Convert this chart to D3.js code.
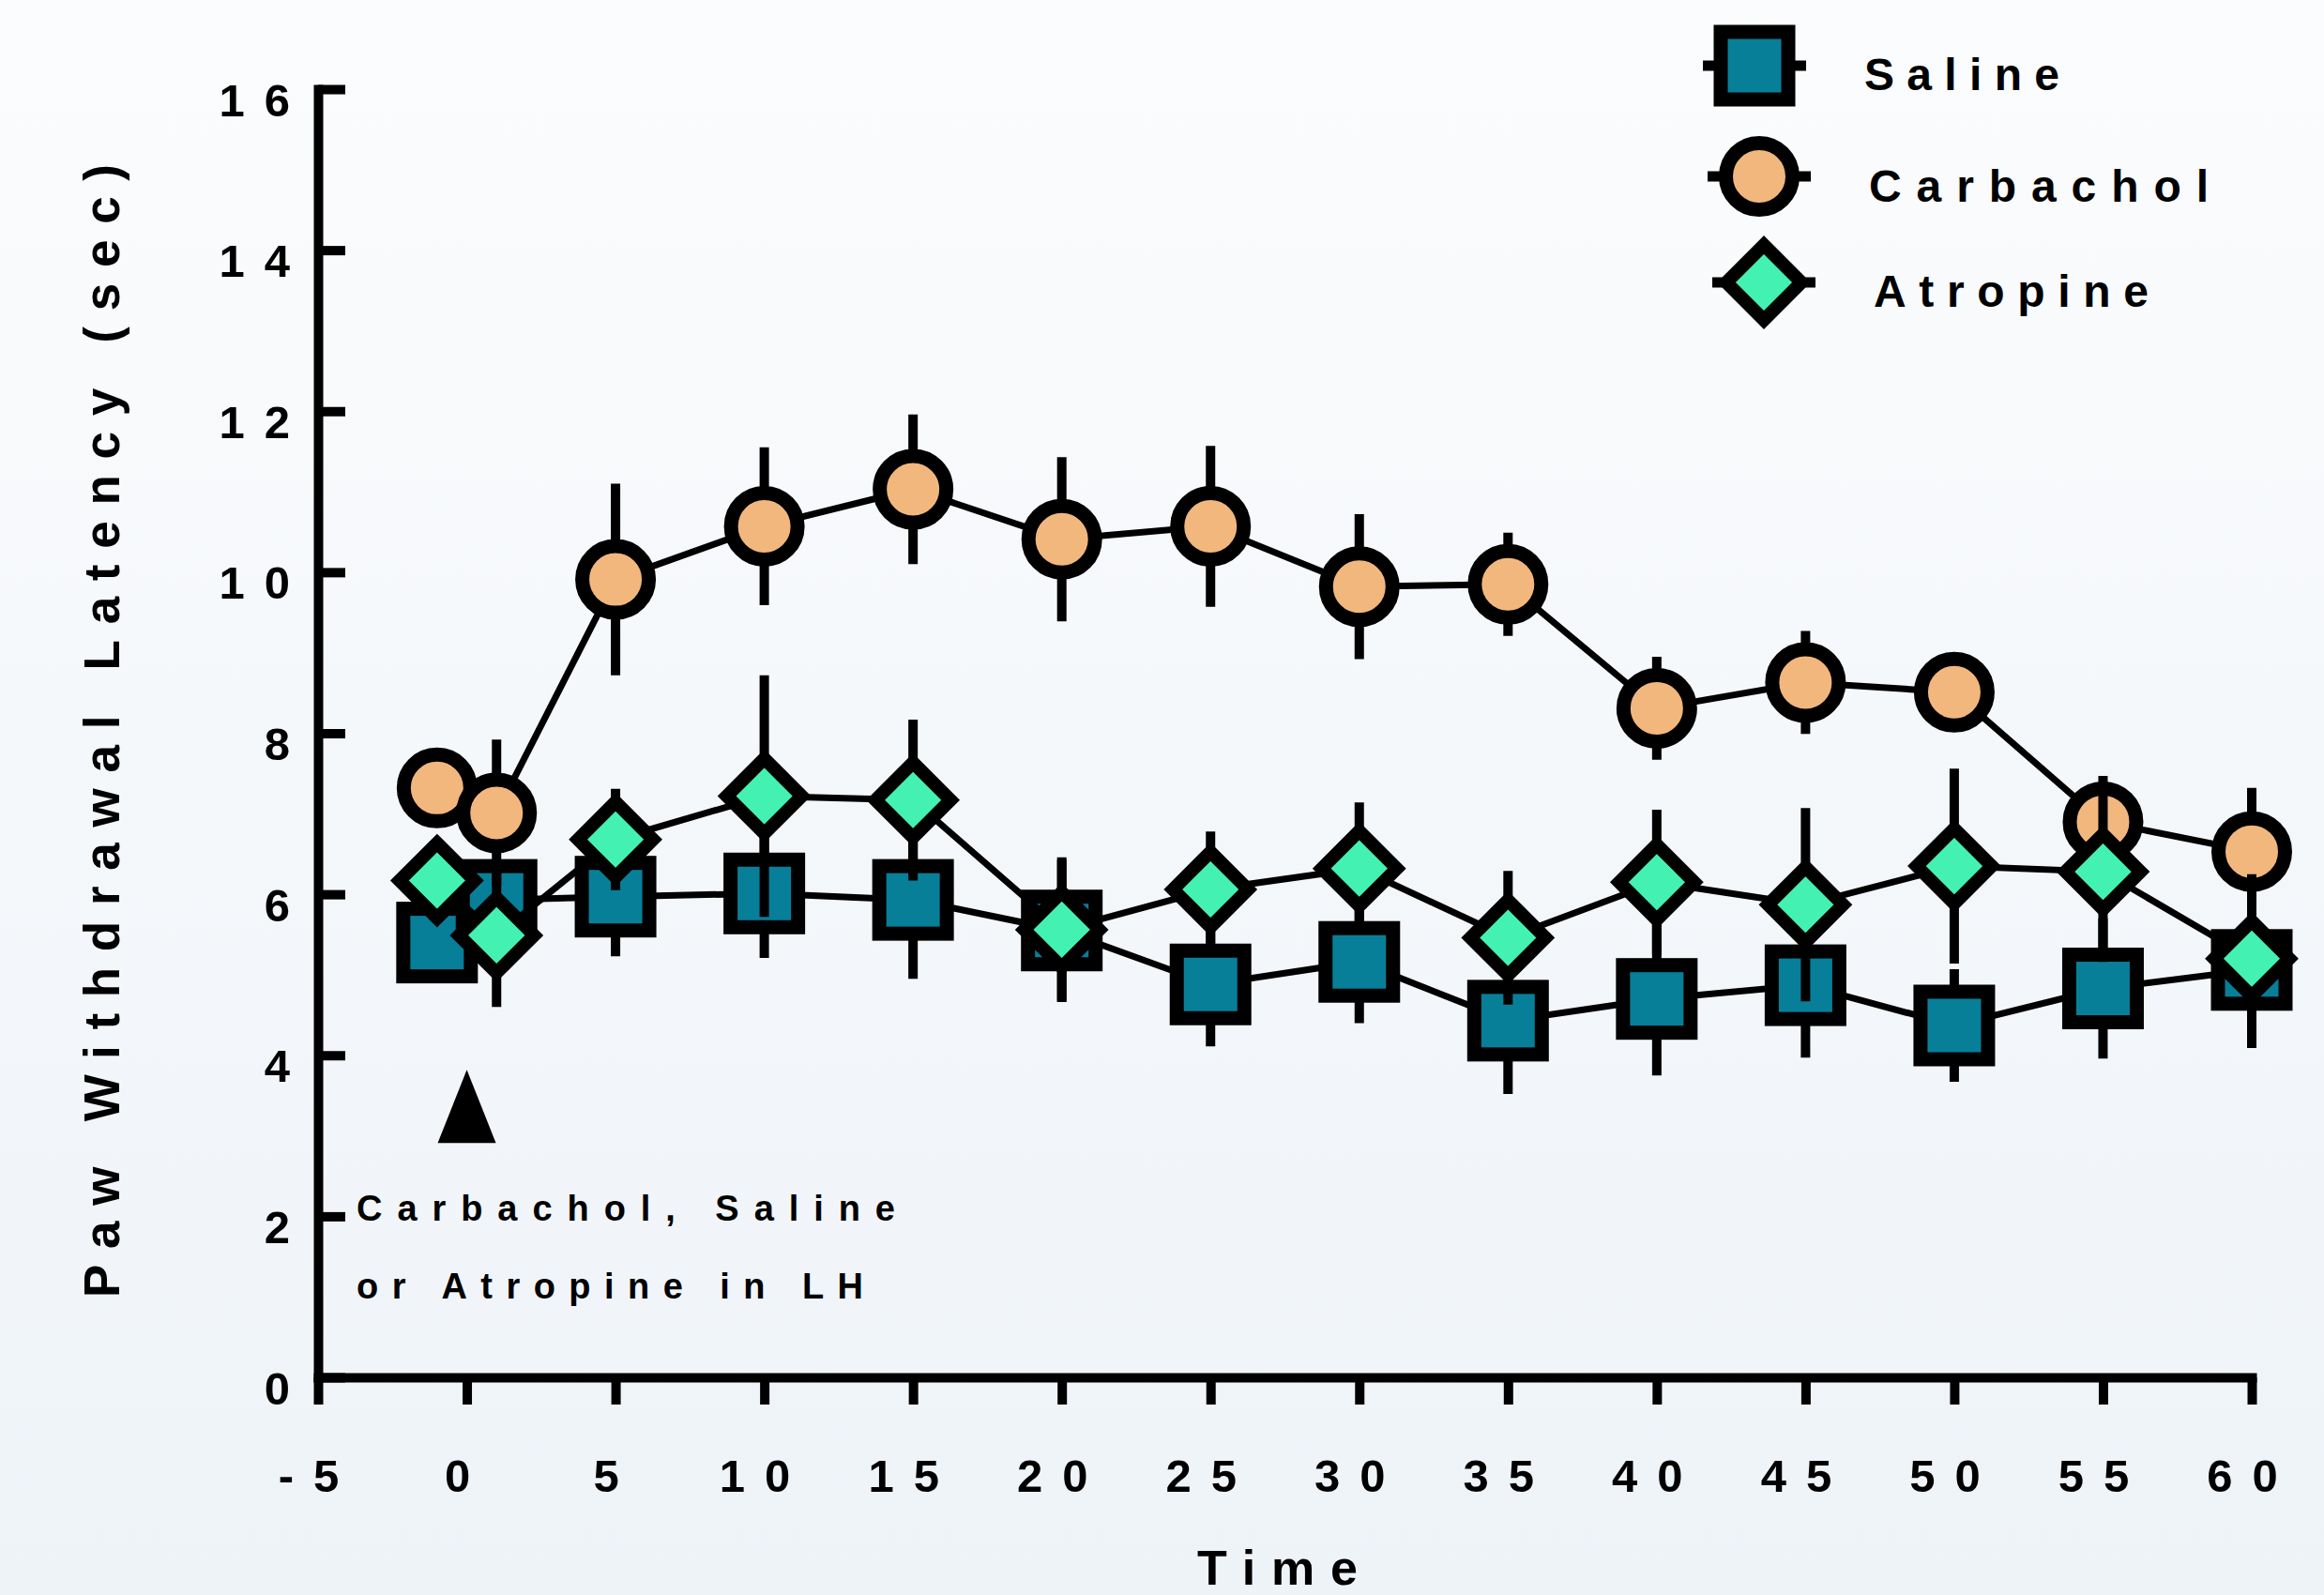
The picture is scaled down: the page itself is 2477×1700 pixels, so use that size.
<!doctype html>
<html>
<head>
    <meta charset="utf-8">
    <title>Paw Withdrawal Latency</title>
    <script src="https://cdn.jsdelivr.net/npm/d3@7"></script>
    <style>
    body { margin: 0; }
    svg text { font-family: "Liberation Sans", Arial, sans-serif; font-weight: bold; fill: #000; }
    </style>
</head>
<body>
<svg width="2477" height="1700"></svg>
<script>
// values (sec), time in min
var time = [-1, 1, 5, 10, 15, 20, 25, 30, 35, 40, 45, 50, 55, 60];

var saline       = [5.40, 5.93, 5.97, 6.01, 5.93, 5.55, 4.88, 5.16, 4.43, 4.70, 4.87, 4.37, 4.83, 5.06];
var salineErr    = [0.30, 0.30, 0.74, 0.80, 0.98, 0.88, 0.77, 0.76, 0.91, 0.95, 0.90, 0.70, 0.87, 0.97];
var carbachol    = [7.32, 7.01, 9.91, 10.57, 11.03, 10.41, 10.57, 9.82, 9.85, 8.31, 8.63, 8.51, 6.90, 6.53];
var carbacholErr = [0.30, 0.91, 1.19, 0.98, 0.93, 1.02, 1.00, 0.90, 0.64, 0.64, 0.64, 0.30, 0.57, 0.79];
var atropine     = [6.17, 5.49, 6.68, 7.22, 7.17, 5.56, 6.06, 6.32, 5.46, 6.15, 5.87, 6.35, 6.28, 5.20];
var atropineErr  = [0.30, 0.89, 0.63, 1.50, 1.00, 0.90, 0.72, 0.82, 0.83, 0.90, 1.20, 1.21, 1.12, 1.05];

var xTicks = d3.range(-5, 61, 5);
var yTicks = d3.range(0, 17, 2);

var series = [
    { name: "Saline", values: saline, err: salineErr, fill: "#077f99", shape: "square" },
    { name: "Carbachol", values: carbachol, err: carbacholErr, fill: "#f2b77d", shape: "circle" },
    { name: "Atropine", values: atropine, err: atropineErr, fill: "#43f2b3", shape: "diamond" }
];

var svg = d3.select("svg");

var x = d3.scaleLinear().domain([-5, 60]).range([339, 2400]);
var y = d3.scaleLinear().domain([0, 16]).range([1468, 95]);

// background
var grad = svg.append("defs").append("linearGradient")
    .attr("id", "bg").attr("x1", 0).attr("y1", 0).attr("x2", 0).attr("y2", 1);
grad.append("stop").attr("offset", "0%").attr("stop-color", "#fbfcfd");
grad.append("stop").attr("offset", "100%").attr("stop-color", "#eef3f8");
svg.append("rect").attr("width", 2477).attr("height", 1700).attr("fill", "url(#bg)");

// axes
var xAxis = d3.axisBottom(x).tickValues(xTicks).tickFormat(function(d) { return String(d); })
    .tickSizeInner(29).tickSizeOuter(0).tickPadding(0);
var yAxis = d3.axisLeft(y).tickValues(yTicks).tickFormat(function(d) { return String(d); })
    .tickSizeInner(-29).tickSizeOuter(0).tickPadding(9);

var gx = svg.append("g").attr("transform", "translate(0," + y(0) + ")").call(xAxis);
var gy = svg.append("g").attr("transform", "translate(" + x(-5) + ",0)").call(yAxis);

[gx, gy].forEach(function(g) {
    g.attr("font-family", null).attr("font-size", null);
    g.select(".domain").attr("stroke", "#000").attr("stroke-width", 10).attr("stroke-linecap", "square");
    g.selectAll(".tick line").attr("stroke", "#000").attr("stroke-width", 10);
    g.selectAll(".tick text").style("font-size", "49px").style("letter-spacing", "21px");
});
gx.selectAll(".tick text").attr("y", 122).attr("dy", null);
gy.selectAll(".tick text").attr("dy", 28);

// axis titles
svg.append("text")
    .attr("transform", "translate(127,1383) rotate(-90)")
    .attr("textLength", 1208).attr("lengthAdjust", "spacing")
    .style("font-size", "53px")
    .text("Paw Withdrawal Latency (sec)");

svg.append("text")
    .attr("x", 1276).attr("y", 1689)
    .attr("textLength", 171).attr("lengthAdjust", "spacing")
    .style("font-size", "52px")
    .text("Time");

// injection arrow + note
svg.append("path")
    .attr("d", "M" + x(0) + "," + y(3.82) + "L" + (x(0) + 31) + "," + y(2.91) + "L" + (x(0) - 31) + "," + y(2.91) + "Z")
    .attr("fill", "#000");

svg.append("text").attr("x", 380).attr("y", 1301)
    .attr("textLength", 574).attr("lengthAdjust", "spacing")
    .style("font-size", "38px").text("Carbachol, Saline");
svg.append("text").attr("x", 380).attr("y", 1384)
    .attr("textLength", 540).attr("lengthAdjust", "spacing")
    .style("font-size", "38px").text("or Atropine in LH");

// markers
function marker(g, shape, fill, cx, cy) {
    if (shape === "square") {
        g.append("rect").attr("x", cx - 36).attr("y", cy - 36).attr("width", 72).attr("height", 72)
            .attr("fill", fill).attr("stroke", "#000").attr("stroke-width", 15);
    } else if (shape === "circle") {
        g.append("circle").attr("cx", cx).attr("cy", cy).attr("r", 35.5)
            .attr("fill", fill).attr("stroke", "#000").attr("stroke-width", 15);
    } else {
        g.append("path")
            .attr("d", "M" + cx + "," + (cy - 40) + "L" + (cx + 40) + "," + cy + "L" + cx + "," + (cy + 40) + "L" + (cx - 40) + "," + cy + "Z")
            .attr("fill", fill).attr("stroke", "#000").attr("stroke-width", 14).attr("stroke-linejoin", "miter");
    }
}

var line = d3.line()
    .x(function(d, i) { return x(time[i]); })
    .y(function(d) { return y(d); });

series.forEach(function(s) {
    var g = svg.append("g");
    g.selectAll("line.err").data(s.values).join("line").attr("class", "err")
        .attr("x1", function(d, i) { return x(time[i]); })
        .attr("x2", function(d, i) { return x(time[i]); })
        .attr("y1", function(d, i) { return y(d + s.err[i]); })
        .attr("y2", function(d, i) { return y(d - s.err[i]); })
        .attr("stroke", "#000").attr("stroke-width", 10);
    g.append("path").datum(s.values).attr("d", line)
        .attr("fill", "none").attr("stroke", "#000").attr("stroke-width", 7);
    s.values.forEach(function(d, i) { marker(g, s.shape, s.fill, x(time[i]), y(d)); });
});

// legend
var legendLayout = [
    { cx: 1870, cy: 70, tx: 1987, ty: 96, len: 208 },
    { cx: 1875, cy: 188, tx: 1992, ty: 215, len: 362 },
    { cx: 1880, cy: 301, tx: 1997, ty: 327, len: 293 }
];
series.forEach(function(s, i) {
    var L = legendLayout[i];
    var g = svg.append("g");
    g.append("line").attr("x1", L.cx - 55).attr("x2", L.cx + 55).attr("y1", L.cy).attr("y2", L.cy)
        .attr("stroke", "#000").attr("stroke-width", 11);
    marker(g, s.shape, s.fill, L.cx, L.cy);
    g.append("text").attr("x", L.tx).attr("y", L.ty)
        .attr("textLength", L.len).attr("lengthAdjust", "spacing")
        .style("font-size", "48px").text(s.name);
});
</script>
</body>
</html>
